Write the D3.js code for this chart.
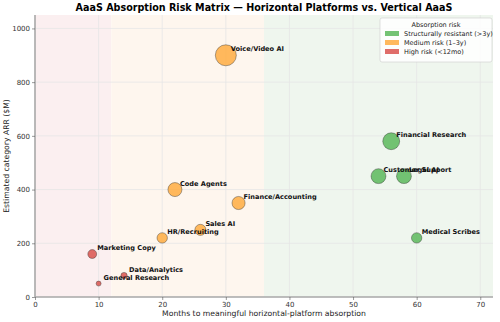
<!DOCTYPE html>
<html>
<head>
<meta charset="utf-8">
<script src="https://cdn.jsdelivr.net/npm/d3@7"></script>
<style>
  body { margin: 0; background: #fff; }
  svg text { font-family: "DejaVu Sans", sans-serif; }
</style>
</head>
<body>
<div id="chart"></div>
<script>
// data
var names = ["Voice/Video AI", "Financial Research", "Customer Support", "Legal AI", "Medical Scribes",
             "Code Agents", "Finance/Accounting", "Sales AI", "HR/Recruiting",
             "Marketing Copy", "Data/Analytics", "General Research"];
var months = [30, 56, 54, 58, 60, 22, 32, 26, 20, 9, 14, 10];
var arr = [900, 580, 450, 450, 220, 400, 350, 250, 220, 160, 80, 50];
var risk = ["medium", "resistant", "resistant", "resistant", "resistant",
            "medium", "medium", "medium", "medium", "high", "high", "high"];

var riskKeys = ["resistant", "medium", "high"];
var riskLabels = ["Structurally resistant (>3y)", "Medium risk (1\u20133y)", "High risk (<12mo)"];
var riskColors = ["#5cb85c", "#ffad42", "#d9534f"];
var bandEdges = [0, 12, 36, 72];
var bandColors = ["#fbeff0", "#fef6ee", "#eff6ee"];

var xTicks = [0, 10, 20, 30, 40, 50, 60, 70];
var yTicks = [0, 200, 400, 600, 800, 1000];

var W = 500, H = 322;
var margin = {top: 15, right: 7, bottom: 25, left: 35};
var width = W - margin.left - margin.right,
    height = H - margin.top - margin.bottom;

var svg = d3.select("#chart").append("svg")
    .attr("width", W).attr("height", H);

svg.append("text")
  .attr("x", margin.left + width / 2).attr("y", 11)
  .attr("text-anchor", "middle")
  .style("font-size", "9.6px").style("font-weight", "bold")
  .text("AaaS Absorption Risk Matrix \u2014 Horizontal Platforms vs. Vertical AaaS");

var g = svg.append("g")
  .attr("transform", "translate(" + margin.left + "," + margin.top + ")");

var x = d3.scaleLinear().domain([0, 72]).range([0, width]);
var y = d3.scaleLinear().domain([0, 1050]).range([height, 0]);
var r = d3.scaleSqrt().domain([0, 900]).range([0, 10.5]);
var color = d3.scaleOrdinal().domain(riskKeys).range(riskColors);

// background risk bands
g.selectAll(".band")
  .data(d3.range(3))
  .enter().append("rect")
    .attr("x", function(i) { return x(bandEdges[i]); })
    .attr("width", function(i) { return x(bandEdges[i + 1]) - x(bandEdges[i]); })
    .attr("y", 0).attr("height", height)
    .attr("fill", function(i) { return bandColors[i]; });

// grid
g.append("g").selectAll("line").data(xTicks).enter().append("line")
  .attr("x1", d => x(d)).attr("x2", d => x(d)).attr("y1", 0).attr("y2", height)
  .attr("stroke", "#e6e6e6").attr("stroke-width", 0.8);
g.append("g").selectAll("line").data(yTicks).enter().append("line")
  .attr("y1", d => y(d)).attr("y2", d => y(d)).attr("x1", 0).attr("x2", width)
  .attr("stroke", "#e6e6e6").attr("stroke-width", 0.8);

// axes
var xAxis = g.append("g")
  .attr("transform", "translate(0," + height + ")")
  .call(d3.axisBottom(x).tickValues(xTicks).tickSize(3).tickPadding(2).tickFormat(d3.format("d")));
var yAxis = g.append("g")
  .call(d3.axisLeft(y).tickValues(yTicks).tickSize(3).tickPadding(2).tickFormat(d3.format("d")));
[xAxis, yAxis].forEach(function(a) {
  a.selectAll("text").style("font-size", "7px").attr("fill", "#333");
  a.selectAll("line").attr("stroke", "#555").attr("stroke-width", 0.6);
  a.select(".domain").attr("stroke", "#aaa").attr("stroke-width", 1.6);
});
xAxis.select(".domain").attr("d", "M0,0H" + width);
yAxis.select(".domain").attr("d", "M0," + height + "V0");

svg.append("text")
  .attr("x", margin.left + width / 2).attr("y", 316)
  .attr("text-anchor", "middle").style("font-size", "7.7px").attr("fill", "#222")
  .text("Months to meaningful horizontal-platform absorption");
svg.append("text")
  .attr("transform", "translate(9," + (margin.top + height / 2) + ") rotate(-90)")
  .attr("text-anchor", "middle").style("font-size", "7.7px").attr("fill", "#222")
  .text("Estimated category ARR ($M)");

// points
var idx = d3.range(names.length);
g.selectAll(".pt")
  .data(idx)
  .enter().append("circle")
    .attr("cx", i => x(months[i]))
    .attr("cy", i => y(arr[i]))
    .attr("r", i => r(arr[i]))
    .attr("fill", i => color(risk[i]))
    .attr("fill-opacity", 0.85)
    .attr("stroke", "#333").attr("stroke-opacity", 0.7).attr("stroke-width", 0.6);

g.selectAll(".lbl")
  .data(idx)
  .enter().append("text")
    .attr("x", i => x(months[i]) + 5)
    .attr("y", i => y(arr[i]) - 4)
    .style("font-size", "6.6px").style("font-weight", "bold").attr("fill", "#111")
    .text(i => names[i]);

// legend
var lg = svg.append("g").attr("transform", "translate(380,18)");
lg.append("rect").attr("width", 112).attr("height", 44).attr("rx", 2)
  .attr("fill", "#fff").attr("fill-opacity", 0.85).attr("stroke", "#ccc").attr("stroke-width", 0.6);
lg.append("text").attr("x", 56).attr("y", 9).attr("text-anchor", "middle")
  .style("font-size", "6.5px").attr("fill", "#222").text("Absorption risk");
riskKeys.forEach(function(k, i) {
  var row = lg.append("g").attr("transform", "translate(5," + (13 + i * 9) + ")");
  row.append("rect").attr("width", 14).attr("height", 5)
    .attr("fill", color(k)).attr("fill-opacity", 0.85);
  row.append("text").attr("x", 19).attr("y", 5).style("font-size", "6.5px")
    .attr("fill", "#222").text(riskLabels[i]);
});
</script>
</body>
</html>
